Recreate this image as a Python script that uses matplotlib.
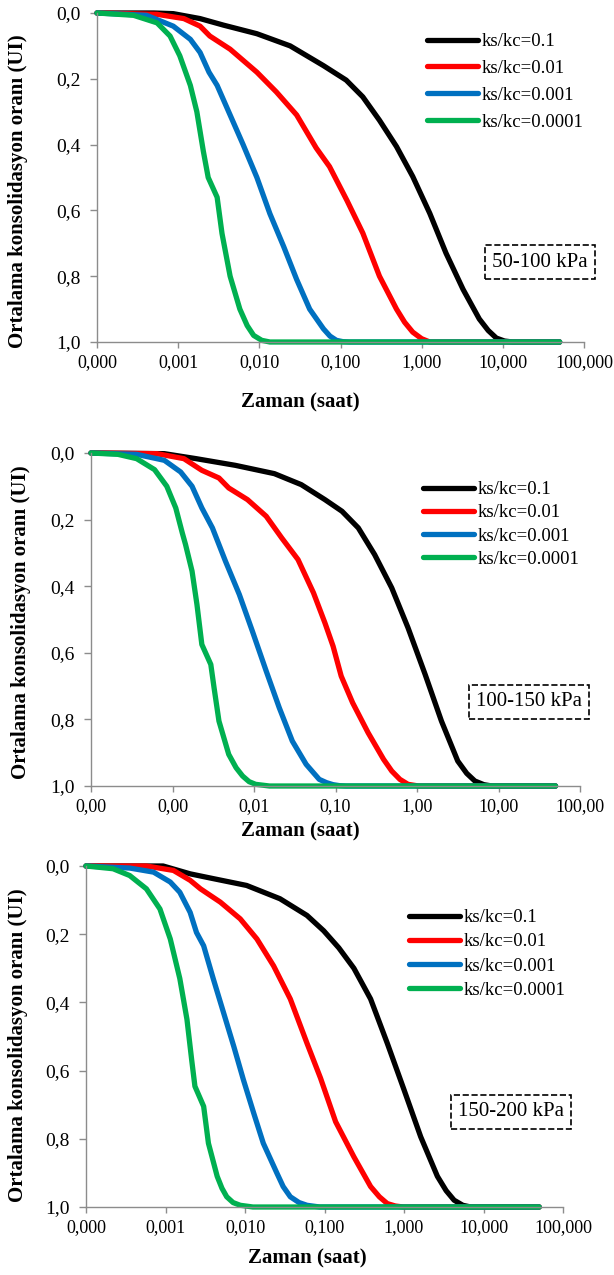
import matplotlib
matplotlib.use("Agg")
import numpy as np
import matplotlib.pyplot as plt

plt.rcParams["font.family"] = ["Liberation Serif", "DejaVu Serif"]

# legend labels and colours
series_labels = ["ks/kc=0.1", "ks/kc=0.01", "ks/kc=0.001", "ks/kc=0.0001"]
series_colors = ["#000000", "#FF0000", "#0070C0", "#00B050"]

x_ticks = [0.0001, 0.001, 0.01, 0.1, 1, 10, 100]
x_labels_3 = ["0,000", "0,001", "0,010", "0,100", "1,000", "10,000", "100,000"]
x_labels_2 = ["0,00", "0,00", "0,01", "0,10", "1,00", "10,00", "100,00"]
y_ticks = [0.0, 0.2, 0.4, 0.6, 0.8, 1.0]
y_labels = ["0,0", "0,2", "0,4", "0,6", "0,8", "1,0"]

panel_titles = ["50-100 kPa", "100-150 kPa", "150-200 kPa"]

# --- 50-100 kPa (log10 of time in hours, U) ---
p1_black_logt = [-4, -3.3, -3.06, -2.73, -2.44, -2.03, -1.62, -1.21, -0.93, -0.725, -0.52, -0.31, -0.11, 0.10, 0.30, 0.51, 0.71, 0.82, 0.92, 1.02, 1.12, 1.7]
p1_black_u = [0, 0, 0.002, 0.017, 0.037, 0.063, 0.10, 0.16, 0.204, 0.255, 0.326, 0.406, 0.497, 0.609, 0.73, 0.84, 0.93, 0.965, 0.988, 0.997, 1.0, 1.0]
p1_red_logt = [-4, -3.26, -2.93, -2.73, -2.61, -2.36, -2.03, -1.79, -1.54, -1.30, -1.135, -0.92, -0.725, -0.52, -0.31, -0.21, -0.11, 0.0, 0.10, 1.7]
p1_red_u = [0, 0.004, 0.017, 0.04, 0.07, 0.11, 0.18, 0.24, 0.31, 0.41, 0.467, 0.57, 0.669, 0.80, 0.90, 0.94, 0.97, 0.99, 1.0, 1.0]
p1_blue_logt = [-4, -3.39, -3.06, -2.85, -2.73, -2.62, -2.52, -2.36, -2.20, -2.03, -1.87, -1.70, -1.54, -1.38, -1.21, -1.13, -1.05, -0.97, -0.89, 1.7]
p1_blue_u = [0, 0.007, 0.04, 0.08, 0.12, 0.18, 0.22, 0.31, 0.40, 0.50, 0.61, 0.71, 0.81, 0.90, 0.96, 0.982, 0.995, 0.999, 1.0, 1.0]
p1_green_logt = [-4, -3.55, -3.26, -3.10, -2.98, -2.85, -2.77, -2.69, -2.63, -2.52, -2.46, -2.36, -2.24, -2.15, -2.07, -1.97, -1.87, 1.7]
p1_green_u = [0, 0.007, 0.03, 0.07, 0.13, 0.22, 0.30, 0.42, 0.50, 0.56, 0.67, 0.80, 0.90, 0.95, 0.98, 0.995, 1.0, 1.0]

# --- 100-150 kPa ---
p2_black_logt = [-4, -3.10, -2.71, -2.23, -1.75, -1.42, -1.13, -0.92, -0.72, -0.52, -0.31, -0.11, 0.10, 0.30, 0.50, 0.61, 0.71, 0.82, 0.92, 1.7]
p2_black_u = [0, 0.002, 0.017, 0.037, 0.062, 0.095, 0.14, 0.175, 0.225, 0.305, 0.405, 0.525, 0.665, 0.805, 0.925, 0.962, 0.985, 0.996, 1.0, 1.0]
p2_red_logt = [-4, -3.19, -2.86, -2.64, -2.43, -2.31, -2.08, -1.85, -1.66, -1.46, -1.27, -1.13, -1.03, -0.93, -0.79, -0.60, -0.41, -0.31, -0.21, -0.11, 0.02, 1.7]
p2_red_u = [0, 0.002, 0.017, 0.052, 0.075, 0.105, 0.14, 0.19, 0.255, 0.32, 0.42, 0.51, 0.58, 0.67, 0.75, 0.84, 0.92, 0.955, 0.98, 0.995, 1.0, 1.0]
p2_blue_logt = [-4, -3.44, -3.10, -2.90, -2.76, -2.64, -2.51, -2.35, -2.18, -2.02, -1.85, -1.69, -1.53, -1.36, -1.20, -1.11, -1.03, -0.95, -0.87, 1.7]
p2_blue_u = [0, 0.004, 0.022, 0.057, 0.10, 0.165, 0.225, 0.325, 0.425, 0.535, 0.655, 0.765, 0.865, 0.935, 0.98, 0.99, 0.996, 0.999, 1.0, 1.0]
p2_green_logt = [-4, -3.67, -3.44, -3.22, -3.07, -2.96, -2.88, -2.84, -2.76, -2.70, -2.64, -2.53, -2.49, -2.43, -2.31, -2.22, -2.14, -2.06, -1.98, -1.81, 1.7]
p2_green_u = [0, 0.004, 0.017, 0.05, 0.10, 0.165, 0.24, 0.275, 0.355, 0.455, 0.575, 0.635, 0.705, 0.805, 0.905, 0.945, 0.97, 0.987, 0.995, 1.0, 1.0]

# --- 150-200 kPa ---
p3_black_logt = [-4, -3.03, -2.69, -2.40, -1.98, -1.56, -1.22, -1.01, -0.82, -0.63, -0.42, -0.21, 0.0, 0.21, 0.42, 0.53, 0.63, 0.74, 0.84, 1.7]
p3_black_u = [0, 0, 0.023, 0.037, 0.057, 0.096, 0.145, 0.19, 0.24, 0.30, 0.39, 0.52, 0.656, 0.794, 0.91, 0.952, 0.98, 0.995, 1.0, 1.0]
p3_red_logt = [-4, -3.24, -2.90, -2.69, -2.56, -2.31, -2.06, -1.85, -1.64, -1.43, -1.22, -1.05, -0.86, -0.63, -0.42, -0.31, -0.21, -0.11, -0.01, 1.7]
p3_red_u = [0, 0, 0.013, 0.042, 0.067, 0.106, 0.155, 0.214, 0.293, 0.39, 0.52, 0.622, 0.75, 0.853, 0.94, 0.97, 0.99, 0.997, 1.0, 1.0]
p3_blue_logt = [-4, -3.45, -3.15, -2.94, -2.82, -2.69, -2.61, -2.52, -2.40, -2.27, -2.14, -2.02, -1.89, -1.77, -1.60, -1.52, -1.43, -1.32, -1.22, -1.06, 1.7]
p3_blue_u = [0, 0.006, 0.018, 0.047, 0.077, 0.136, 0.195, 0.234, 0.33, 0.43, 0.53, 0.627, 0.725, 0.813, 0.90, 0.94, 0.97, 0.987, 0.995, 1.0, 1.0]
p3_green_logt = [-4, -3.66, -3.45, -3.24, -3.07, -2.94, -2.82, -2.73, -2.67, -2.63, -2.52, -2.46, -2.35, -2.29, -2.23, -2.15, -2.06, -1.90, 1.7]
p3_green_u = [0, 0.008, 0.028, 0.067, 0.126, 0.214, 0.33, 0.45, 0.57, 0.646, 0.705, 0.813, 0.91, 0.945, 0.97, 0.987, 0.995, 1.0, 1.0]

panels = [
    [(p1_black_logt, p1_black_u), (p1_red_logt, p1_red_u), (p1_blue_logt, p1_blue_u), (p1_green_logt, p1_green_u)],
    [(p2_black_logt, p2_black_u), (p2_red_logt, p2_red_u), (p2_blue_logt, p2_blue_u), (p2_green_logt, p2_green_u)],
    [(p3_black_logt, p3_black_u), (p3_red_logt, p3_red_u), (p3_blue_logt, p3_blue_u), (p3_green_logt, p3_green_u)],
]

W, H = 614, 1275
fig = plt.figure(figsize=(W / 100, H / 100), dpi=100)

# layout in pixels: axes (left, top, right, bottom), legend anchor, box centre, labels
axes_px = [(97, 13, 584, 342), (91, 453, 580, 786), (86, 866, 563, 1207)]
legend_px = [(427, 33, 0.52), (423, 481, 0.33), (409, 909, 0.38)]
box_px = [(540, 262), (529, 702), (511, 1112)]
ylabel_px = [(18, 191), (21, 622), (18, 1045)]
xlabel_px = [(300, 402), (300, 831), (307, 1258)]
tick_sets = [x_labels_3, x_labels_2, x_labels_3]

for i, series in enumerate(panels):
    l, t, r, b = axes_px[i]
    ax = fig.add_axes([l / W, 1 - b / H, (r - l) / W, (b - t) / H])
    for (lt, u), lab, col in zip(series, series_labels, series_colors):
        ax.plot(10 ** np.array(lt), u, color=col, lw=3.8, label=lab,
                solid_capstyle="round", solid_joinstyle="round", clip_on=False)
    ax.set_xscale("log")
    ax.set_xlim(1e-4, 100)
    ax.set_ylim(1.0, 0.0)
    ax.set_xticks(x_ticks)
    ax.set_xticklabels(tick_sets[i], fontsize=13)
    ax.xaxis.set_minor_locator(matplotlib.ticker.NullLocator())
    ax.set_yticks(y_ticks)
    ax.set_yticklabels(y_labels, fontsize=14)
    for s in ["top", "right"]:
        ax.spines[s].set_visible(False)
    for s in ["left", "bottom"]:
        ax.spines[s].set_color("#8c8c8c")
        ax.spines[s].set_linewidth(1.0)
    ax.tick_params(axis="x", direction="out", length=4, width=1, color="#8c8c8c", pad=5)
    ax.tick_params(axis="y", direction="out", length=5, width=1, color="#8c8c8c", pad=7)

    lx, ly, lsp = legend_px[i]
    ax.legend(loc="upper left", bbox_to_anchor=(lx / W, 1 - ly / H), bbox_transform=fig.transFigure,
              frameon=False, fontsize=13.5, handlelength=2.7, handletextpad=0.2,
              labelspacing=lsp, borderpad=0, borderaxespad=0)

    bx, by = box_px[i]
    fig.text(bx / W, 1 - by / H, panel_titles[i], fontsize=15, ha="center", va="center",
             bbox=dict(boxstyle="square,pad=0.35", fc="white", ec="black", ls="--", lw=1.2))

    yx, yy = ylabel_px[i]
    fig.text(yx / W, 1 - yy / H, "Ortalama konsolidasyon oranı (UI)", rotation=90,
             fontsize=15, fontweight="bold", ha="center", va="center")
    xx, xy = xlabel_px[i]
    fig.text(xx / W, 1 - xy / H, "Zaman (saat)", fontsize=15, fontweight="bold",
             ha="center", va="center")

fig.savefig("out.png", dpi=100)
